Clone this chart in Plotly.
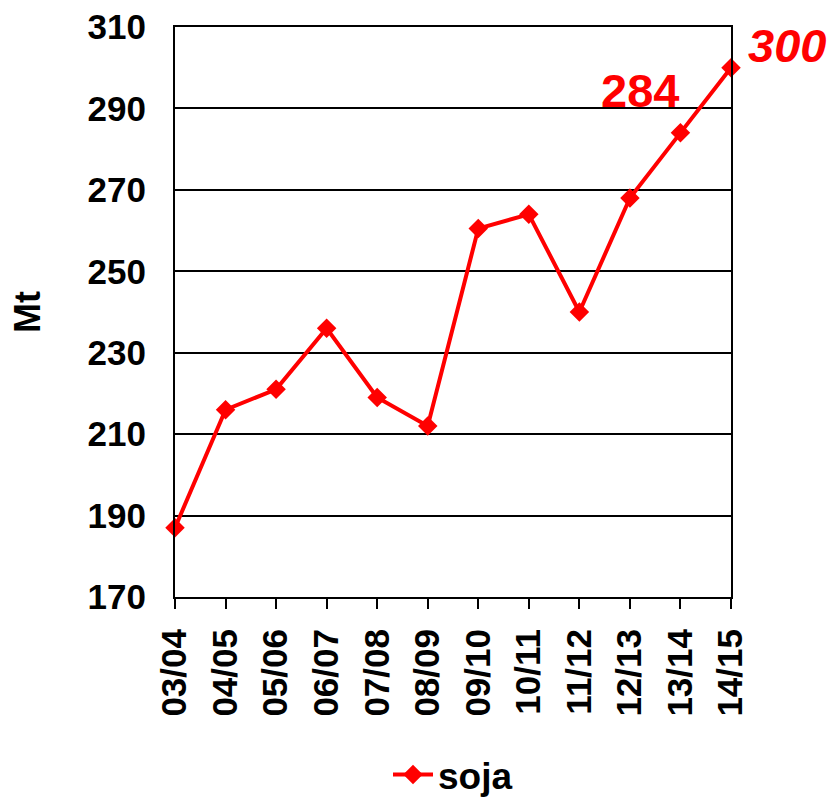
import plotly.graph_objects as go

categories = ["03/04", "04/05", "05/06", "06/07", "07/08", "08/09",
              "09/10", "10/11", "11/12", "12/13", "13/14", "14/15"]
soja = [187, 216, 221, 236, 219, 212, 260.5, 264, 240, 268, 284, 300]
y_ticks = [170, 190, 210, 230, 250, 270, 290, 310]

RED = "#FF0000"
FONT = "Liberation Sans, Arial, sans-serif"

fig = go.Figure()
fig.add_trace(go.Scatter(
    x=categories, y=soja, mode="lines+markers", name="soja",
    line=dict(color=RED, width=4),
    marker=dict(symbol="diamond", size=15, color=RED),
    cliponaxis=False,
))

fig.add_annotation(x=9.2, y=294.5, xref="x", yref="y", text="<b>284</b>",
                   xanchor="center", yanchor="middle",
                   showarrow=False, font=dict(family=FONT, size=47, color=RED))
fig.add_annotation(x=1.10, y=0.967, xref="paper", yref="paper", text="<b><i>300</i></b>",
                   xanchor="center", yanchor="middle",
                   showarrow=False, font=dict(family=FONT, size=47, color=RED))

fig.update_layout(
    width=830, height=799,
    margin=dict(l=175, r=99, t=27, b=202, autoexpand=False),
    paper_bgcolor="white", plot_bgcolor="white",
    font=dict(family=FONT, color="black"),
    showlegend=True,
    legend=dict(orientation="h", x=0.5, xanchor="center", y=-0.312, yanchor="middle",
                font=dict(family=FONT, size=37, color="black", weight="bold"),
                itemwidth=40),
    xaxis=dict(
        type="category", range=[0, 11],
        tickangle=-90, ticks="outside", ticklen=10, tickwidth=2, tickcolor="black",
        ticklabelstandoff=6,
        tickfont=dict(family=FONT, size=35, color="black", weight="bold"),
        showline=True, linecolor="black", linewidth=2, mirror=True,
        showgrid=False, zeroline=False, automargin=False,
    ),
    yaxis=dict(
        range=[170, 310], tickvals=y_ticks,
        ticks="", ticklabelstandoff=20, ticklabeloverflow="allow",
        tickfont=dict(family=FONT, size=35, color="black", weight="bold"),
        showline=True, linecolor="black", linewidth=2, mirror=True,
        showgrid=True, gridcolor="black", gridwidth=2, zeroline=False,
        automargin=False,
        title=dict(text="Mt", standoff=36,
                   font=dict(family=FONT, size=36, color="black", weight="bold")),
    ),
)

fig.write_html("out.html", config={"displayModeBar": False},
               post_script="document.body.style.margin='0';document.body.style.overflow='hidden';")
